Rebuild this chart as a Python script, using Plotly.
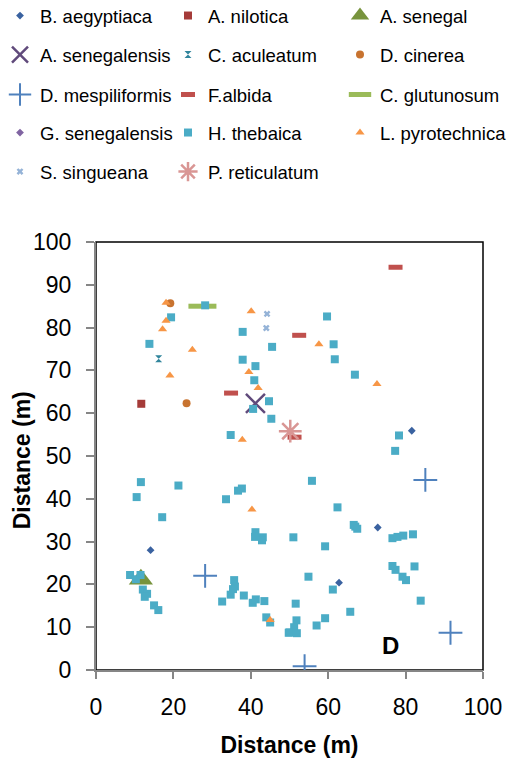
import plotly.graph_objects as go

# ---- data ----
b_aegyptiaca_x = [14.1, 81.6, 72.8, 62.8]
b_aegyptiaca_y = [28.0, 55.9, 33.3, 20.4]
a_nilotica_x = [11.7]
a_nilotica_y = [62.2]
a_senegal_x = [11.6]
a_senegal_y = [21.2]
a_senegalensis_x = [41.2]
a_senegalensis_y = [62.3]
c_aculeatum_x = [16.2]
c_aculeatum_y = [72.7]
d_cinerea_x = [19.2, 23.4]
d_cinerea_y = [85.7, 62.3]
d_mespiliformis_x = [28.2, 85.1, 91.6, 53.9]
d_mespiliformis_y = [22.0, 44.4, 8.7, 0.9]
f_albida_x = [34.9, 77.4, 52.5, 51.3]
f_albida_y = [64.7, 94.1, 78.2, 54.4]
c_glutunosum_x = [27.5]
c_glutunosum_y = [85.0]
g_senegalensis_x = [None]   # no visible point in the plot area
g_senegalensis_y = [None]
h_thebaica_x = [28.2, 19.4, 13.8, 37.9, 45.5, 37.9, 41.2, 40.9, 44.7, 40.6, 45.3, 34.8,
                59.7, 61.4, 61.7, 66.9, 78.3, 77.3,
                11.6, 10.5, 21.3, 17.1, 33.6, 36.7, 37.7, 41.2, 41.1, 43.1, 42.9,
                8.8, 10.3, 11.5, 12.1, 13.2, 12.6, 15.0, 16.1,
                35.7, 35.9, 35.4, 34.8, 32.6, 38.2, 40.5, 41.3, 43.5, 44.0, 45.0, 49.8,
                55.8, 62.4, 66.6, 67.0, 67.5, 76.6, 77.9, 79.4, 81.9, 51.0, 59.2,
                76.6, 77.4, 79.2, 80.1, 82.3, 54.9, 61.2, 83.9, 51.6, 65.7, 59.2, 57.0,
                51.8, 51.2, 50.0, 51.9]
h_thebaica_y = [85.2, 82.4, 76.2, 79.0, 75.5, 72.5, 71.0, 67.7, 62.8, 61.0, 58.7, 54.9,
                82.6, 76.1, 72.6, 69.0, 54.8, 51.2,
                43.9, 40.4, 43.1, 35.7, 39.9, 41.9, 42.4, 32.2, 31.1, 31.0, 30.3,
                22.2, 21.2, 22.2, 18.8, 17.8, 17.1, 15.1, 14.0,
                21.0, 19.5, 18.9, 17.6, 16.0, 17.4, 15.7, 16.5, 16.1, 12.3, 11.1, 8.7,
                44.2, 38.0, 33.9, 33.5, 33.0, 30.8, 31.1, 31.4, 31.7, 31.0, 28.9,
                24.3, 23.4, 21.8, 21.0, 24.2, 21.8, 18.8, 16.2, 15.5, 13.6, 12.1, 10.4,
                11.6, 10.0, 8.8, 8.6]
l_pyrotechnica_x = [18.1, 18.1, 17.2, 24.9, 19.1, 40.1, 39.5, 41.9, 37.8, 57.6, 72.6, 40.3, 45.0]
l_pyrotechnica_y = [85.8, 81.6, 79.6, 74.8, 68.8, 83.8, 69.6, 65.9, 53.8, 76.1, 66.8, 37.5, 11.7]
s_singueana_x = [44.2, 44.0]
s_singueana_y = [83.2, 79.9]
p_reticulatum_x = [50.2]
p_reticulatum_y = [55.8]

x_ticks = [0, 20, 40, 60, 80, 100]
y_ticks = [0, 10, 20, 30, 40, 50, 60, 70, 80, 90, 100]
axis_title = "Distance (m)"
panel_label = "D"

FONT = "Liberation Sans"

# name, x, y, symbol, size, color, open-line-width
series = [
    ("B. aegyptiaca", b_aegyptiaca_x, b_aegyptiaca_y, "diamond", 6, "#3A62A0", None),
    ("A. nilotica", a_nilotica_x, a_nilotica_y, "square", 8, "#A53B39", None),
    ("A. senegal", a_senegal_x, a_senegal_y, "triangle-up", 21, "#77933C", None),
    ("A. senegalensis", a_senegalensis_x, a_senegalensis_y, "x-thin-open", 19, "#604A7B", 2.5),
    ("C. aculeatum", c_aculeatum_x, c_aculeatum_y, "hourglass", 7, "#31859C", None),
    ("D. cinerea", d_cinerea_x, d_cinerea_y, "circle", 8, "#C8732F", None),
    ("D. mespiliformis", d_mespiliformis_x, d_mespiliformis_y, "cross-thin-open", 17, "#4F81BD", 2),
    ("F.albida", f_albida_x, f_albida_y, "line-ew-open", 10, "#C0504D", 5),
    ("C. glutunosum", c_glutunosum_x, c_glutunosum_y, "line-ew-open", 20, "#9BBB59", 5),
    ("G. senegalensis", g_senegalensis_x, g_senegalensis_y, "diamond", 6, "#8064A2", None),
    ("H. thebaica", h_thebaica_x, h_thebaica_y, "square", 8, "#4BACC6", None),
    ("L. pyrotechnica", l_pyrotechnica_x, l_pyrotechnica_y, "triangle-up", 8, "#F79646", None),
    ("S. singueana", s_singueana_x, s_singueana_y, "x", 6, "#95B3D7", None),
    ("P. reticulatum", p_reticulatum_x, p_reticulatum_y, "asterisk-open", 19, "#D99694", 2.5),
]

W, H = 518, 758
ML, MR, MT, MB = 96, 35, 242, 88
row_centers = [16, 55, 95, 133, 172]
legend_x_px = [0, 168, 340]

fig = go.Figure()
legends = {}
for i, (name, xs, ys, sym, size, color, lw) in enumerate(series):
    if lw is None:
        marker = dict(symbol=sym, size=size, color=color, line=dict(width=0))
    else:
        marker = dict(symbol=sym, size=size, color=color, line=dict(width=lw, color=color))
    key = f"legend{i+2}"
    fig.add_trace(go.Scatter(x=xs, y=ys, mode="markers", name=name, marker=marker,
                             legend=key, showlegend=True))
    r, c = divmod(i, 3)
    legends[key] = dict(orientation="v", xref="container", yref="container",
                        x=legend_x_px[c] / W, y=1 - row_centers[r] / H,
                        xanchor="left", yanchor="middle",
                        font=dict(family=FONT, size=18.5, color="#000000"),
                        bgcolor="rgba(0,0,0,0)", borderwidth=0, itemclick=False,
                        itemdoubleclick=False)

fig.update_layout(
    width=W, height=H,
    margin=dict(l=ML, r=MR, t=MT, b=MB, autoexpand=False),
    paper_bgcolor="white", plot_bgcolor="white",
    font=dict(family=FONT, color="#000000"),
    showlegend=True,
    **legends,
)

fig.update_xaxes(range=[0, 100], tickvals=x_ticks, ticktext=[str(v) for v in x_ticks],
                 showgrid=False, zeroline=False, showline=True, linecolor="#868686",
                 linewidth=2, ticks="outside", ticklen=7, tickwidth=2, tickcolor="#868686",
                 tickfont=dict(family=FONT, size=23, color="#000000"),
                 ticklabelstandoff=8,
                 title=dict(text="<b>" + axis_title + "</b>", font=dict(family=FONT, size=23, color="#000000"),
                            standoff=18))
fig.update_yaxes(range=[0, 100], tickvals=y_ticks, ticktext=[str(v) for v in y_ticks],
                 showgrid=False, zeroline=False, showline=True, linecolor="#868686",
                 linewidth=2, ticks="outside", ticklen=8, tickwidth=2, tickcolor="#868686",
                 tickfont=dict(family=FONT, size=23, color="#000000"),
                 ticklabelstandoff=10)

fig.add_shape(type="rect", xref="paper", yref="paper", x0=0, y0=0, x1=1, y1=1,
              line=dict(color="#000000", width=1.5), layer="below")

# y-axis title
plot_w = W - ML - MR
fig.add_annotation(x=(22 - ML) / plot_w, y=0.49, xref="paper", yref="paper",
                   text="<b>" + axis_title + "</b>", textangle=-90, showarrow=False,
                   xanchor="center", yanchor="middle",
                   font=dict(family=FONT, size=23, color="#000000"))

fig.add_annotation(x=76, y=5.7, xref="x", yref="y", text="<b>" + panel_label + "</b>",
                   showarrow=False, font=dict(family=FONT, size=24, color="#000000"))

fig.write_html("out.html")
